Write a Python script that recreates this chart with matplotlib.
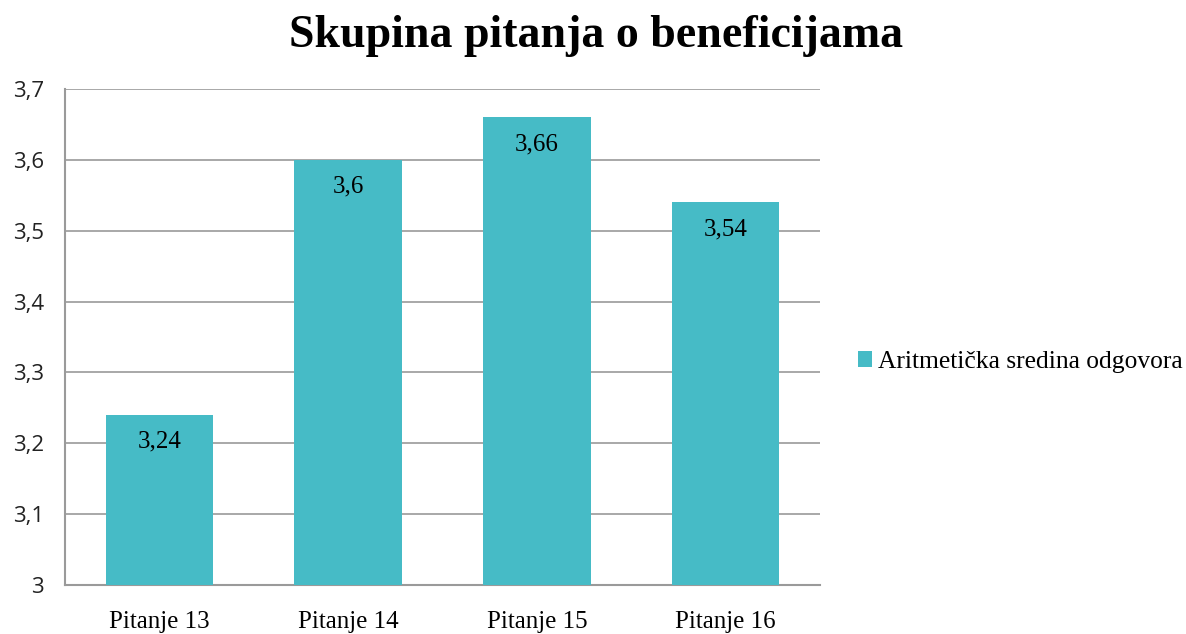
import matplotlib
matplotlib.use("Agg")
import matplotlib.pyplot as plt
from matplotlib.patches import Patch

categories = ["Pitanje 13", "Pitanje 14", "Pitanje 15", "Pitanje 16"]
values = [3.24, 3.6, 3.66, 3.54]
value_labels = ["3,24", "3,6", "3,66", "3,54"]
yticks = [3.0, 3.1, 3.2, 3.3, 3.4, 3.5, 3.6, 3.7]
ytick_labels = ["3", "3,1", "3,2", "3,3", "3,4", "3,5", "3,6", "3,7"]
series_name = "Aritmetička sredina odgovora"
title = "Skupina pitanja o beneficijama"

color = "#46BBC6"
serif = ["Liberation Serif", "DejaVu Serif"]
sans = ["Open Sans", "DejaVu Sans"]

fig = plt.figure(figsize=(11.86, 6.34), dpi=100)
ax = fig.add_axes([65/1186, 1-585/634, 755/1186, 496/634])

x = list(range(len(categories)))
ax.bar(x, values, width=0.57, color=color, zorder=3)
ax.set_xlim(-0.5, len(categories)-0.5)
ax.set_ylim(3.0, 3.7)
ax.set_yticks(yticks)
ax.set_yticklabels(ytick_labels, fontfamily=sans, fontsize=16, color="#222222")
ax.set_xticks(x)
ax.set_xticklabels(categories, fontfamily=serif, fontsize=18)
ax.tick_params(axis="both", length=0)
ax.tick_params(axis="y", pad=15)
ax.tick_params(axis="x", pad=19)
ax.yaxis.grid(True, color="#9a9a9a", linewidth=1.2, zorder=0)
for s in ["top", "right"]:
    ax.spines[s].set_visible(False)
for s in ["left", "bottom"]:
    ax.spines[s].set_color("#9a9a9a")
    ax.spines[s].set_linewidth(1.5)

for xi, v, lab in zip(x, values, value_labels):
    ax.annotate(lab, (xi, v), xytext=(0, -27), textcoords="offset pixels",
                ha="center", va="center", fontsize=18, fontfamily=serif, zorder=4)

fig.text(596/1186, 1-36/634, title, ha="center", va="center",
         fontsize=33, fontweight="bold", fontfamily=serif)

handle = Patch(facecolor=color, edgecolor="none")
fig.legend([handle], [series_name], loc="center left",
           bbox_to_anchor=(858/1186, 1-362/634), frameon=False,
           prop={"family": serif, "size": 18.4}, handlelength=0.55, handleheight=0.55,
           handletextpad=0.25, borderaxespad=0, borderpad=0)

fig.savefig("out.png", dpi=100)
